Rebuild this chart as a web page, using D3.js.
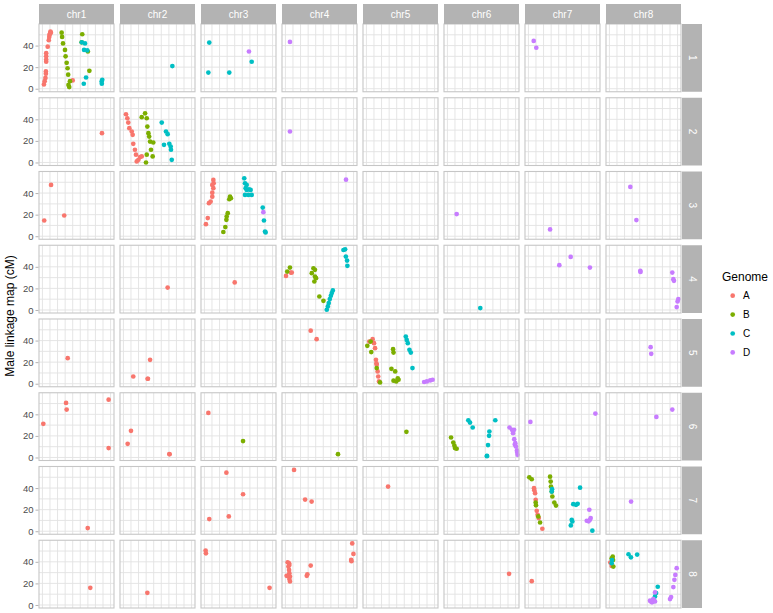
<!DOCTYPE html>
<html lang="en">
<head>
<meta charset="UTF-8">
<title>Male linkage map by chromosome</title>
<style>
    body { margin: 0; background: #fff; }
    svg { display: block; font-family: "Liberation Sans", Arial, sans-serif; }
    .grid line { stroke: #e2e2e2; stroke-width: 0.9; }
    .border { fill: none; stroke: #c6c6c6; stroke-width: 1.1; }
    .strip rect { fill: #b3b3b3; }
    .strip text { fill: #fff; font-size: 10px; }
    .yaxis text { fill: #4d4d4d; font-size: 9.5px; }
    .yaxis line { stroke: #b3b3b3; }
</style>
</head>
<body>
<svg id="chart" width="773" height="613"></svg>
<script src="https://d3js.org/d3.v7.min.js"></script>
<script>
// facets
const chromosomes = ['chr1', 'chr2', 'chr3', 'chr4', 'chr5', 'chr6', 'chr7', 'chr8'];
const linkageGroups = ['1', '2', '3', '4', '5', '6', '7', '8'];
const genomes = ['A', 'B', 'C', 'D'];
const genomeColors = ['#F8766D', '#7CAE00', '#00BFC4', '#C77CFF'];
const yTicks = [0, 20, 40];
const yMinor = [10, 30, 50];
const xGrid = [0, 5, 10, 15, 20, 25, 30, 35, 40, 45];

// markers: [linkage group, chromosome, physical position, cM]
const genomeA = [
    [1,1,1,4],[1,1,1.5,7],[1,1,2,10],[1,1,2.3,14],[1,1,2.3,16],[1,1,2.5,25],[1,1,2.5,27],[1,1,2.5,30],
    [1,1,2.5,33],[1,1,3.5,39],[1,1,4.2,45],[1,1,4.5,48],[1,1,4.7,50],[1,1,5,51],[1,1,5.3,53],[1,1,5.6,52],
    [1,1,20,7.7],
    [2,1,39.3,27.2],
    [2,2,1.7,44.7],[2,2,2.6,41],[2,2,3.2,37],[2,2,3.9,31.8],[2,2,5.5,28.7],[2,2,6.1,25.6],[2,2,6.5,17.3],
    [2,2,7.6,11.8],[2,2,8.3,7.2],[2,2,8.8,1],[2,2,9.9,2.5],[2,2,11,5],[2,2,12.1,5.6],
    [3,1,5.7,47.6],[3,1,1.2,14.6],[3,1,14.4,19.2],
    [3,3,1,11.2],[3,3,2.2,16.8],[3,3,3,30.6],[3,3,4.1,32.1],[3,3,5.2,36.7],[3,3,5.2,40.4],[3,3,5.9,44.5],
    [3,3,6.1,49.1],[3,3,5.9,52.2],[3,3,5.2,47.6],
    [4,2,29.2,20.8],[4,3,20,25.5],
    [4,4,0.4,31.6],[4,4,3.5,34.7],[4,4,4.2,34.7],
    [5,1,16.7,23.7],
    [5,2,6.5,6.7],[5,2,16,4.6],[5,2,16.2,4.6],[5,2,17.6,22.2],
    [5,4,16.7,49.2],[5,4,20.6,41.3],
    [5,5,4.1,41.3],[5,5,1.9,39.1],[5,5,5,37.6],[5,5,5.7,33],[5,5,6.3,22.2],[5,5,6.6,19],[5,5,6.8,17.5],
    [5,5,7.4,11.4],[5,5,7.8,6.7],[5,5,8.3,2.1],
    [6,1,0.6,31.2],[6,1,15.6,50.6],[6,1,16,44.4],[6,1,43.7,53.6],[6,1,43.7,8.7],
    [6,2,2.8,12.7],[6,2,5,24.7],[6,2,30.3,3.2],[6,2,30.5,3],
    [6,3,2.6,41.3],
    [7,1,29.9,2.9],
    [7,3,3.2,11.3],[7,3,14.5,54.3],[7,3,16.1,13.7],[7,3,25.5,34.3],
    [7,4,5.7,56.8],[7,4,13,29.3],[7,4,17.3,27.5],
    [7,5,14.3,41.4],
    [7,7,3.7,39.9],[7,7,3.9,38],[7,7,4.4,35.3],[7,7,4.8,29.1],[7,7,5.5,18.9],[7,7,6.1,15.2],[7,7,6.8,12.2],
    [7,7,9.2,2.3],
    [8,1,31.6,15.9],[8,2,15.8,11.3],
    [8,3,0.8,50.4],[8,3,1,47.9],[8,3,43,15.9],
    [8,4,1.5,39.6],[8,4,2.4,38.7],[8,4,2.6,37],[8,4,2,35.6],[8,4,2.4,32.5],[8,4,2.6,29.5],[8,4,0.8,27],
    [8,4,2,27],[8,4,3,26.4],[8,4,2.6,24],[8,4,3,21.8],[8,4,14.1,27],[8,4,14.5,28.5],[8,4,16.7,36.5],
    [8,4,44.1,57.1],[8,4,44.9,47.3],[8,4,43.4,41.8],[8,4,43.6,40.6],
    [8,6,40.7,28.9],[8,7,2.2,22.1],
    [8,8,1.5,36.2],[8,8,0.6,39.3]
];

const genomeB = [
    [1,1,12.7,52],[1,1,13,48],[1,1,13.6,42],[1,1,14.9,36],[1,1,15.3,30],[1,1,16,24],[1,1,16.6,19],
    [1,1,17,13],[1,1,18.2,7],[1,1,17.7,1.5],[1,1,17.2,3.5],
    [1,1,26.3,50.5],[1,1,25.9,43],[1,1,30,34.5],[1,1,31,16.6],
    [2,2,12.1,42],[2,2,14.3,45.6],[2,2,15.4,41],[2,2,15.8,33.3],[2,2,16.5,27.2],[2,2,17,24],[2,2,17.6,19.4],
    [2,2,19.7,18.5],[2,2,18.2,11.8],[2,2,19.3,5.6],[2,2,15.4,7.2],[2,2,14.9,0],
    [3,3,12.5,3.9],[3,3,13.8,8.5],[3,3,14.5,15.2],[3,3,14.7,18.3],[3,3,15.4,21.4],[3,3,16.4,34.3],
    [3,3,16.9,36.7],[3,3,17.5,35.2],
    [4,4,3,39.3],[4,4,1.2,35.6],[4,4,17.4,34.1],[4,4,18.5,38.7],[4,4,19.5,37.2],[4,4,19.5,31],
    [4,4,19.1,26.4],[4,4,20.2,29.5],[4,4,22.4,12.5],[4,4,25.1,8.5],
    [5,5,0.6,35.1],[5,5,2.8,39.1],[5,5,3.2,29.3],[5,5,6.8,14.5],[5,5,9,1.2],[5,5,17.6,32],[5,5,17.9,28.9],
    [5,5,16.5,13.8],[5,5,19,11.4],[5,5,17.9,2.8],[5,5,19.7,2.1],[5,5,21.2,3.7],[5,5,20.7,5],
    [6,3,25.5,15.2],[6,4,34.7,3.1],[6,5,26.4,23.8],
    [6,6,2.4,18.5],[6,6,3.9,13.9],[6,6,4.6,11.1],[6,6,6.1,8.1],[6,6,5,8.7],
    [7,7,0.6,50],[7,7,2.2,48.2],[7,7,14.3,50.6],[7,7,14.7,46],[7,7,14.9,41.4],[7,7,15.4,36.8],
    [7,7,15.8,32.2],[7,7,17.1,26.6],[7,7,18.2,23.8],[7,7,4.8,26.6],[7,7,5,24],[7,7,6.5,13.7],[7,7,7.7,8.1],
    [8,8,2.2,44.8],[8,8,2.4,41.7],[8,8,2.6,35.6],[8,8,1.5,43.3]
];

const genomeC = [
    [1,1,26,43],[1,1,28.1,42],[1,1,27.5,36],[1,1,29.6,35.5],[1,1,28.8,10.4],[1,1,27.3,4.6],
    [1,1,39.1,6.8],[1,1,39.5,8.3],[1,1,39.2,4.6],
    [1,2,32.3,21],
    [1,3,3.2,42.8],[1,3,2.6,15],[1,3,16.4,15],[1,3,31.2,25],
    [2,2,25.3,37],[2,2,28.1,28.7],[2,2,29.2,26.2],[2,2,26.8,16.4],[2,2,30.3,17.3],[2,2,31.2,14.8],
    [2,2,31.4,11.8],[2,2,31.9,2.5],
    [3,3,26.3,53.7],[3,3,26.8,49.1],[3,3,27.2,44.5],[3,3,27.9,42.9],[3,3,29.4,43.4],[3,3,26.8,38.3],
    [3,3,29,38.3],[3,3,31.2,38.3],[3,3,30.5,42.9],[3,3,27.9,47.6],
    [3,3,38.5,26.6],[3,3,39.3,14.6],[3,3,40,4.4],[3,3,40.4,3.5],
    [4,4,27.3,0.2],[4,4,28,3.3],[4,4,28.6,6.4],[4,4,29.3,10.1],[4,4,30,13.2],[4,4,30.6,15.7],[4,4,31.3,18.1],
    [4,4,38.3,55.6],[4,4,39.4,56.2],[4,4,39.9,49.5],[4,4,40.7,45.8],[4,4,40.9,40.9],
    [4,6,21.7,1.8],
    [5,5,26,43.7],[5,5,26.6,40.6],[5,5,27.3,37.6],[5,5,28.4,31.4],[5,5,29.3,28.9],[5,5,30.4,14.5],
    [6,6,13.8,34.5],[6,6,14.9,32.4],[6,6,16.7,27.8],[6,6,27.7,24.1],[6,6,27.5,20.1],[6,6,26.8,11.5],
    [6,6,26.1,1.6],[6,6,26.1,1.2],[6,6,31.6,34.5],
    [7,7,15.4,36.8],[7,7,15.6,39],[7,7,29.6,25.1],[7,7,31.4,24.5],[7,7,32.5,25.4],[7,7,34.1,40.4],
    [7,7,28.6,10.6],[7,7,28,5.4],[7,7,29,9],[7,7,42.2,0.5],
    [8,8,1.7,41.7],[8,8,1.5,38.7],[8,8,12.6,47],[8,8,14.2,44.2],[8,8,18.3,46.7],[8,8,31.9,16.9],
    [8,8,30.8,11],[8,8,30.1,7.9],[8,8,29,4.8],[8,8,28.6,3.3]
];

const genomeD = [
    [1,3,29.4,34.5],[1,4,3,43.4],[1,7,3.5,44.3],[1,7,5.2,38],
    [2,4,3,28.7],
    [3,3,38.9,22.3],[3,4,40,52.4],[3,6,6.1,20.5],[3,7,14.3,6.3],[3,8,13.8,45.7],[3,8,17.8,15],
    [4,7,20.4,41.5],[4,7,27.9,49.2],[4,7,40.6,39.3],
    [4,8,20.4,36.2],[4,8,20.5,35.3],[4,8,41.5,34.7],[4,8,42.2,28.6],[4,8,42.6,27],[4,8,45.5,10.1],
    [4,8,45,7.9],[4,8,44.4,2.7],
    [5,5,38.1,1.6],[5,5,39.9,2.1],[5,5,42.1,3.1],[5,5,43.7,3.7],
    [5,8,27.2,33.9],[5,8,27.6,27.7],
    [6,6,41,27.8],[6,6,42.6,25.6],[6,6,44,25.6],[6,6,43.3,22.5],[6,6,44.1,17],[6,6,44.8,13.3],
    [6,6,44.5,12],[6,6,45.2,10.2],[6,6,45.9,6.5],[6,6,46,5],[6,6,46.3,2.5],
    [6,7,1.3,33],[6,7,44.2,40.7],
    [6,8,31,37.6],[6,8,41.5,44.4],
    [7,7,40.2,19.9],[7,7,38.5,9.7],[7,7,40.6,10.6],[7,7,41.1,12.2],[7,7,39.7,9.2],
    [7,8,14.3,27.5],
    [8,8,44.4,34.1],[8,8,43.5,27.9],[8,8,42.9,23.3],[8,8,42.2,16.6],[8,8,40.7,7.3],[8,8,40,5.5],
    [8,8,30.1,11.6],[8,8,29,5.5],[8,8,27.3,3.3],[8,8,26.8,4],[8,8,30.1,3.3],[8,8,28.1,2.5]
];

const genomeSeries = [genomeA, genomeB, genomeC, genomeD];

const panelLeft = 39, panelTop = 24, panelW = 75, panelH = 67.75, gap = 6;
const stripSize = 20;
const pointR = 2.35;

const svg = d3.select('#chart');

const col = d3.scaleBand().domain(chromosomes)
    .range([panelLeft, panelLeft + chromosomes.length * panelW + (chromosomes.length - 1) * gap])
    .paddingInner(gap / (panelW + gap));
const row = d3.scaleBand().domain(linkageGroups)
    .range([panelTop, panelTop + linkageGroups.length * panelH + (linkageGroups.length - 1) * gap])
    .paddingInner(gap / (panelH + gap));

const x = d3.scaleLinear().domain([-2.25, 47.25]).range([0, col.bandwidth()]);
const y = d3.scaleLinear().domain([-2.8, 60]).range([row.bandwidth(), 0]);
const color = d3.scaleOrdinal().domain(genomes).range(genomeColors);

// panels
linkageGroups.forEach((lg, ri) => {
    chromosomes.forEach((chr, ci) => {
        const g = svg.append('g').attr('transform', `translate(${col(chr)},${row(lg)})`);
        const grid = g.append('g').attr('class', 'grid');
        grid.selectAll('.v').data(xGrid).enter().append('line')
            .attr('x1', d => x(d)).attr('x2', d => x(d))
            .attr('y1', 0).attr('y2', row.bandwidth());
        grid.selectAll('.h').data(yTicks.concat(yMinor)).enter().append('line')
            .attr('x1', 0).attr('x2', col.bandwidth())
            .attr('y1', d => y(d)).attr('y2', d => y(d));

        genomeSeries.forEach((series, gi) => {
            g.selectAll(null)
                .data(series.filter(p => p[0] === ri + 1 && p[1] === ci + 1))
                .enter().append('circle')
                .attr('cx', p => x(p[2]))
                .attr('cy', p => y(p[3]))
                .attr('r', pointR)
                .attr('fill', color(genomes[gi]));
        });

        g.append('rect').attr('class', 'border')
            .attr('width', col.bandwidth()).attr('height', row.bandwidth());

        if (ci === 0) {
            const ax = svg.append('g').attr('class', 'yaxis')
                .attr('transform', `translate(${col(chr) - 0.5},${row(lg)})`)
                .call(d3.axisLeft(y).tickValues(yTicks).tickSize(3).tickPadding(2));
            ax.select('.domain').remove();
        }
    });
});

// column strips
const topStrips = svg.selectAll('.topstrip').data(chromosomes).enter().append('g')
    .attr('class', 'strip')
    .attr('transform', d => `translate(${col(d)},${panelTop - stripSize})`);
topStrips.append('rect').attr('width', col.bandwidth()).attr('height', stripSize);
topStrips.append('text').attr('x', col.bandwidth() / 2).attr('y', stripSize / 2)
    .attr('text-anchor', 'middle').attr('dominant-baseline', 'central').text(d => d);

// row strips
const stripX = col(chromosomes[chromosomes.length - 1]) + col.bandwidth() + 1;
const sideStrips = svg.selectAll('.sidestrip').data(linkageGroups).enter().append('g')
    .attr('class', 'strip')
    .attr('transform', d => `translate(${stripX},${row(d)})`);
sideStrips.append('rect').attr('width', stripSize).attr('height', row.bandwidth());
sideStrips.append('text')
    .attr('transform', `translate(${stripSize / 2},${row.bandwidth() / 2}) rotate(90)`)
    .attr('text-anchor', 'middle').attr('dominant-baseline', 'central').text(d => d);

// y title
svg.append('text')
    .attr('transform', `translate(10,${panelTop + (row.range()[1] - panelTop) / 2}) rotate(-90)`)
    .attr('text-anchor', 'middle').attr('dominant-baseline', 'central')
    .style('font-size', '12px').attr('fill', '#000')
    .text('Male linkage map (cM)');

// legend
const legend = svg.append('g').attr('transform', 'translate(722,0)');
legend.append('text').attr('x', 0).attr('y', 277).attr('dominant-baseline', 'central')
    .style('font-size', '12px').text('Genome');
const keys = legend.selectAll('.key').data(genomes).enter().append('g')
    .attr('transform', (d, i) => `translate(0,${295.7 + i * 18.9})`);
keys.append('circle').attr('cx', 10.7).attr('cy', 0).attr('r', pointR).attr('fill', d => color(d));
keys.append('text').attr('x', 21).attr('y', 0).attr('dominant-baseline', 'central')
    .style('font-size', '10px').text(d => d);
</script>
</body>
</html>
